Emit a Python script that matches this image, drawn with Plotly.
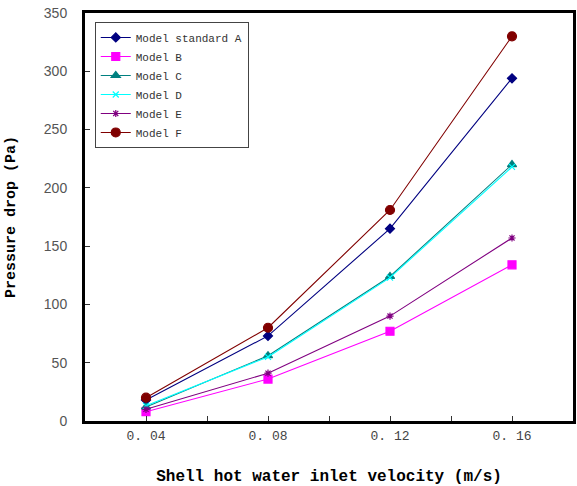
import plotly.graph_objects as go

velocity = [0.04, 0.08, 0.12, 0.16]
series_names = ["Model standard A", "Model B", "Model C", "Model D", "Model E", "Model F"]
model_a = [18, 73, 165, 294]
model_b = [8, 36, 77, 134]
model_c = [12, 56, 124, 220]
model_d = [13, 55, 123, 218]
model_e = [10, 41, 90, 157]
model_f = [20, 80, 181, 330]

values = [model_a, model_b, model_c, model_d, model_e, model_f]
colors = ["#000080", "#FF00FF", "#008080", "#00FFFF", "#800080", "#800000"]
symbols = ["diamond", "square", "triangle-up", "x-thin", "asterisk", "circle"]
sizes = [7, 8, 8, 6, 6, 9]

mono = "Liberation Mono, DejaVu Sans Mono, monospace"

fig = go.Figure()
for name, vals, c, s, sz in zip(series_names, values, colors, symbols, sizes):
    fig.add_trace(go.Scatter(
        x=velocity, y=vals, name=name, mode="lines+markers",
        line=dict(color=c, width=1.1),
        marker=dict(symbol=s, size=sz, color=c, line=dict(color=c, width=1.2)),
    ))

fig.update_layout(
    width=577, height=486,
    margin=dict(l=85, r=4, t=13, b=65),
    paper_bgcolor="white", plot_bgcolor="white",
    showlegend=True,
    legend=dict(
        x=0.02, y=0.978, xanchor="left", yanchor="top",
        bgcolor="white", bordercolor="#444", borderwidth=1,
        font=dict(family=mono, size=11, color="#333"),
        tracegroupgap=0, itemwidth=30,
    ),
    xaxis=dict(
        range=[0.02, 0.18], tickvals=[0.04, 0.08, 0.12, 0.16],
        ticktext=["0. 04", "0. 08", "0. 12", "0. 16"],
        minor=dict(tickvals=[0.06, 0.10, 0.14], ticks="inside", ticklen=5, tickcolor="#333"),
        ticks="inside", ticklen=5, tickcolor="#333",
        showline=True, linecolor="black", linewidth=3, mirror=True,
        showgrid=False, zeroline=False, automargin=False,
        tickfont=dict(family=mono, size=13, color="#444"),
        title=dict(text="<b>Shell hot water inlet velocity (m/s)</b>",
                   font=dict(family=mono, size=16, color="black"), standoff=31),
    ),
    yaxis=dict(
        range=[0, 350], tickvals=[0, 50, 100, 150, 200, 250, 300, 350],
        ticks="inside", ticklen=5, tickcolor="#333",
        ticklabelstandoff=12,
        showline=True, linecolor="black", linewidth=3, mirror=True,
        showgrid=False, zeroline=False, automargin=False,
        tickfont=dict(family="Liberation Sans, Arial, sans-serif", size=14, color="#555"),
        title=dict(text="<b>Pressure drop (Pa)</b>",
                   font=dict(family=mono, size=15, color="black"), standoff=25),
    ),
)

fig.write_html("out.html")
